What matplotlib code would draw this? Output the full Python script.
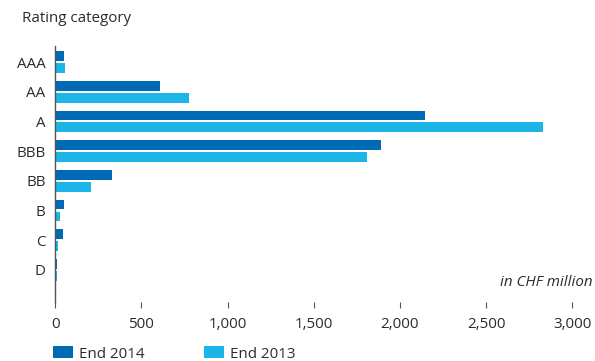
import matplotlib.pyplot as plt
import numpy as np

plt.rcParams['font.family'] = ['Open Sans', 'DejaVu Sans']

categories = ['AAA', 'AA', 'A', 'BBB', 'BB', 'B', 'C', 'D']
end_2014 = [49, 608, 2146, 1890, 327, 49, 45, 10]
end_2013 = [54, 776, 2830, 1809, 205, 25, 14, 8]
xticks = [0, 500, 1000, 1500, 2000, 2500, 3000]

dark = '#006AB5'
light = '#1DB5E8'
text_col = '#2b2b2b'
fs = 10.9

fig = plt.figure(figsize=(5.95, 3.61), dpi=100)
ax = fig.add_axes([55.3 / 595, 1 - 302 / 361, (572.3 - 55.3) / 595, (302 - 46) / 361])

y = np.arange(len(categories))
h = 0.33
ax.barh(y - 0.2, end_2014, height=h, color=dark, label='End 2014')
ax.barh(y + 0.2, end_2013, height=h, color=light, label='End 2013')

ax.set_xlim(0, 3000)
ax.set_ylim(8.08, -0.54)
ax.set_yticks(y)
ax.set_yticklabels(categories, fontsize=fs, color=text_col)
ax.set_xticks(xticks)
ax.set_xticklabels([f'{v:,}' for v in xticks], fontsize=fs, color=text_col)

for s in ['top', 'right', 'bottom']:
    ax.spines[s].set_visible(False)
ax.spines['left'].set_color('#555555')
ax.spines['left'].set_linewidth(1.0)
ax.tick_params(axis='y', length=0, pad=7)
ax.tick_params(axis='x', length=4, width=0.8, color='#555555', pad=7)

# "in CHF million" note, right edge near x=593 px
ax.text((593 - 55.3) / (572.3 - 55.3), (302 - 282) / (302 - 46),
        'in CHF million', transform=ax.transAxes, ha='right', va='center',
        fontsize=fs, style='italic', color=text_col)
fig.text(22 / 595, 1 - 19 / 361, 'Rating category', ha='left', va='center',
         fontsize=fs, color=text_col)

fig.legend(loc='center left', bbox_to_anchor=(53 / 595, 1 - 354 / 361), ncol=2,
           frameon=False, fontsize=fs, handlelength=1.35, handleheight=0.8,
           handletextpad=0.35, columnspacing=3.95, borderpad=0, borderaxespad=0,
           labelcolor=text_col)

fig.savefig('out.png', dpi=100)
